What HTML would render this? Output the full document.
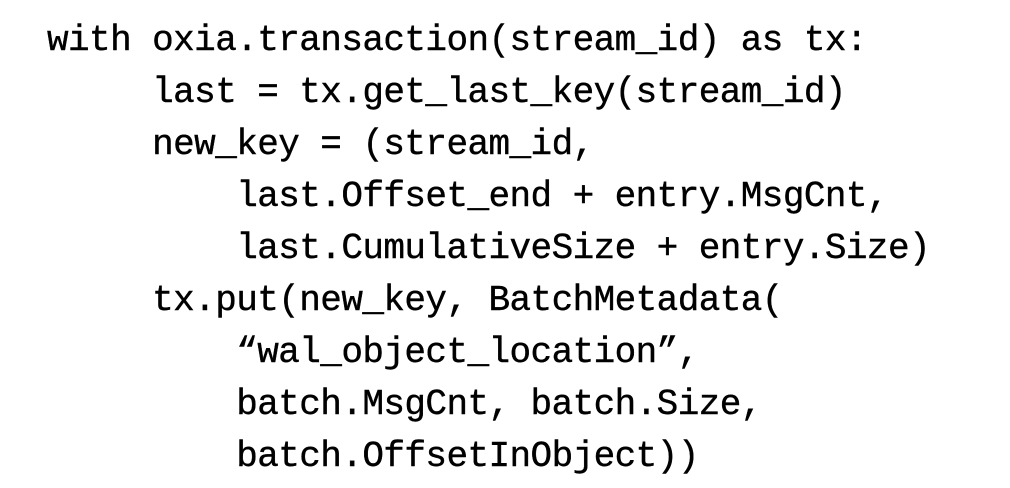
<!DOCTYPE html>
<html><head><meta charset="utf-8"><style>
html,body{margin:0;padding:0;background:#fff;width:1010px;height:488px;overflow:hidden;}
pre{position:absolute;left:47px;top:15px;margin:0;font-family:"Liberation Mono",monospace;font-size:36px;letter-spacing:-0.58px;line-height:52px;color:#000;-webkit-text-stroke:0.4px #000;}
</style></head><body>
<pre>with oxia.transaction(stream_id) as tx:
     last = tx.get_last_key(stream_id)
     new_key = (stream_id,
         last.Offset_end + entry.MsgCnt,
         last.CumulativeSize + entry.Size)
     tx.put(new_key, BatchMetadata(
         “wal_object_location”,
         batch.MsgCnt, batch.Size,
         batch.OffsetInObject))</pre>
</body></html>
